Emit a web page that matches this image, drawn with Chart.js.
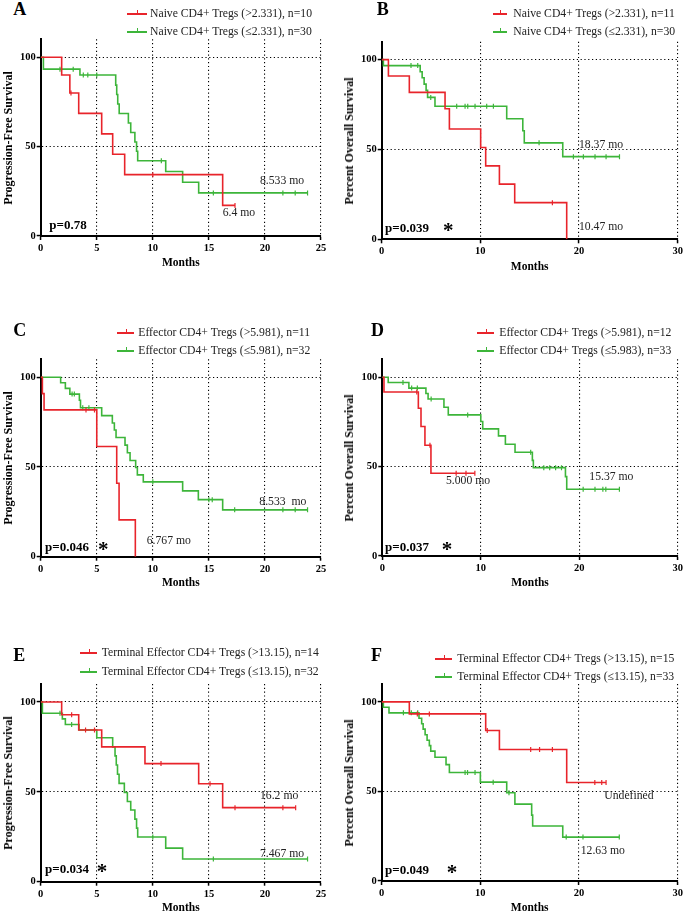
<!DOCTYPE html>
<html>
<head>
<meta charset="utf-8">
<script src="https://cdn.jsdelivr.net/npm/chart.js@4.4.1/dist/chart.umd.min.js"></script>
<style>
  body { margin: 0; background: #fff; }
  #fig { position: relative; width: 685px; height: 914px; overflow: hidden;
         font-family: "Liberation Serif", "Times New Roman", serif; color: #000; }
  #fig canvas { position: absolute; }
  .t { position: absolute; white-space: pre; line-height: 1; transform: translateY(-50%); }
  .letter { font-weight: bold; font-size: 18px; }
  .leg { font-size: 11.7px; color: #222; }
  .sw { position: absolute; height: 2px; }
  .sw::after { content: ""; position: absolute; left: 50%; top: -3px; width: 1px; height: 4px; background: inherit; }
  .pv { font-weight: bold; font-size: 13px; }
  .star { font-weight: bold; font-size: 21px; }
  .med { font-size: 11.7px; color: #222; }
  .axt { font-weight: bold; font-size: 11.5px; transform: translate(-50%, -50%); }
  .ylab { font-weight: bold; font-size: 12px; transform: translate(-50%, -50%) rotate(-90deg); }
</style>
</head>
<body>
<div id="fig"></div>
<script>
"use strict";
const RED = "#e8242b";
const GREEN = "#3db53a";
const FONT = "'Liberation Serif', 'Times New Roman', serif";

// axis ticks
const yTicks = [0, 50, 100];
const xTicks25 = [0, 5, 10, 15, 20, 25];
const xTicks30 = [0, 10, 20, 30];

// A — PFS, naive
const aRedT = [0, 1.87, 2.6, 3.39, 5.44, 6.42, 7.49, 16.23, 17.33];
const aRedS = [100, 90, 80, 68.6, 57.1, 45.7, 34.3, 17.1, 17.1];
const aRedC = [2.7, 10.0, 17.33];
const aGrnT = [0, 0.24, 3.5, 6.69, 6.78, 6.87, 7.0, 7.82, 8.03, 8.4, 8.55, 8.65, 11.15, 12.66, 14.09, 23.8];
const aGrnS = [100, 93.3, 90, 84.4, 79.1, 73.8, 68.5, 63.2, 57.9, 52.6, 47.4, 42.1, 36.1, 30.1, 24.1, 24.1];
const aGrnC = [1.72, 2.9, 3.8, 4.2, 5.0, 10.76, 15.4, 21.6, 22.7, 23.8];

// B — OS, naive
const bRedT = [0, 0.68, 2.8, 6.42, 6.86, 10.03, 10.54, 11.93, 13.48, 18.75];
const bRedS = [100, 90.9, 81.8, 72.7, 61.4, 51.1, 40.9, 30.7, 20.4, 0];
const bRedC = [17.3];
const bGrnT = [0, 0.17, 3.9, 4.1, 4.3, 4.5, 4.65, 5.4, 12.67, 14.3, 14.45, 18.35, 24.1];
const bGrnS = [100, 96.7, 93.3, 89.9, 86.4, 82.9, 79.0, 74.1, 67.1, 60.4, 53.7, 46.0, 46.0];
const bGrnC = [2.97, 3.65, 4.97, 7.6, 8.45, 8.72, 9.46, 10.64, 11.32, 15.95, 19.43, 20.44, 21.62, 22.74, 24.1];

// C — PFS, effector
const cRedT = [0, 0.15, 0.3, 5.0, 6.78, 6.99, 8.44];
const cRedS = [100, 90.9, 81.8, 61.4, 40.9, 20.5, 0];
const cRedC = [4.04, 4.8];
const cGrnT = [0, 1.78, 2.2, 2.6, 3.45, 3.55, 5.44, 6.39, 6.57, 6.72, 7.52, 7.73, 7.97, 8.47, 8.62, 9.15, 12.66, 14.06, 16.23, 23.8];
const cGrnS = [100, 96.9, 93.8, 90.6, 87.2, 83.0, 78.6, 74.5, 70.6, 66.4, 62.2, 57.9, 53.6, 49.7, 45.6, 41.7, 36.7, 31.8, 26.1, 26.1];
const cGrnC = [2.8, 3.0, 3.75, 4.3, 10.0, 15.0, 15.3, 17.3, 21.6, 22.7, 23.8];

// D — OS, effector
const dRedT = [0, 0.17, 3.66, 3.93, 4.33, 4.94, 9.4];
const dRedS = [100, 91.7, 82.6, 72.4, 61.9, 46.3, 46.3];
const dRedC = [3.5, 4.84, 7.5, 8.5, 9.4];
const dGrnT = [0, 0.6, 2.7, 4.43, 4.65, 6.26, 6.7, 10.0, 10.2, 11.8, 12.5, 13.48, 15.24, 15.34, 18.6, 18.73, 24.08];
const dGrnS = [100, 97.0, 93.9, 90.9, 87.8, 83.2, 78.9, 75.2, 71.1, 67.2, 62.5, 58.0, 53.5, 49.4, 44.4, 37.3, 37.3];
const dGrnC = [2.1, 2.98, 3.56, 4.96, 8.67, 15.07, 16.4, 17.0, 17.6, 18.2, 20.4, 21.6, 22.4, 22.7, 24.08];

// E — PFS, terminal effector
const eRedT = [0, 1.87, 3.39, 5.44, 9.3, 14.09, 16.23, 22.74];
const eRedS = [100, 92.9, 84.4, 75.0, 65.7, 54.5, 41.2, 41.2];
const eRedC = [2.76, 4.0, 4.8, 10.73, 15.1, 17.33, 21.6, 22.74];
const eGrnT = [0, 0.15, 1.93, 2.2, 3.42, 5.0, 6.42, 6.63, 6.74, 6.85, 6.99, 7.46, 7.73, 8.03, 8.4, 8.55, 8.65, 11.15, 12.66, 23.8];
const eGrnS = [100, 93.7, 90.6, 87.5, 84.4, 80.1, 75.0, 70.0, 64.9, 59.8, 54.7, 49.6, 44.6, 39.9, 34.8, 29.8, 24.9, 18.7, 12.6, 12.6];
const eGrnC = [1.72, 2.76, 10.0, 15.4, 23.8];

// F — OS, terminal effector
const fRedT = [0, 2.8, 10.54, 11.93, 18.75, 22.74];
const fRedS = [100, 93.3, 84.0, 73.4, 55.0, 55.0];
const fRedC = [3.61, 4.83, 10.7, 15.1, 16.0, 17.3, 21.6, 22.3, 22.74];
const fGrnT = [0, 0.17, 0.74, 3.78, 4.05, 4.2, 4.4, 4.6, 4.83, 4.97, 5.4, 6.52, 6.86, 10.0, 12.67, 13.5, 15.2, 15.3, 18.35, 24.08];
const fGrnS = [100, 97.0, 93.9, 90.9, 87.8, 84.8, 81.7, 78.6, 75.6, 72.5, 69.1, 65.0, 60.6, 55.2, 49.3, 42.9, 36.8, 30.7, 24.5, 24.5];
const fGrnC = [2.2, 3.0, 3.65, 8.45, 8.7, 9.46, 11.3, 12.9, 18.7, 20.4, 24.08];

const PANELS = [
  { id: "A", box: { l: 40.7, r: 321, t: 39.3, b: 236 }, xTicks: xTicks25,
    yTitle: "Progression-Free Survival", yTitleX: 7.5, monthsY: 263.3,
    red: [aRedT, aRedS, aRedC], green: [aGrnT, aGrnS, aGrnC],
    legRed: "Naive CD4+ Tregs (>2.331), n=10", legGrn: "Naive CD4+ Tregs (\u22642.331), n=30",
    letter: [13.3, 9], leg: { x: 127, w: 20, tx: 150, y1: 14, y2: 31.7 },
    p: "p=0.78", pPos: [49.3, 224.3], star: null,
    meds: [["8.533 mo", 260, 181], ["6.4 mo", 222.7, 213.3]] },
  { id: "B", box: { l: 381.7, r: 677.7, t: 41.7, b: 239.3 }, xTicks: xTicks30,
    yTitle: "Percent Overall Survival", yTitleX: 349, monthsY: 266.7,
    red: [bRedT, bRedS, bRedC], green: [bGrnT, bGrnS, bGrnC],
    legRed: "Naive CD4+ Tregs (>2.331), n=11", legGrn: "Naive CD4+ Tregs (\u22642.331), n=30",
    letter: [376.7, 9], leg: { x: 493.3, w: 14, tx: 513.3, y1: 14, y2: 31.7 },
    p: "p=0.039", pPos: [385, 227.3], star: 443,
    meds: [["18.37 mo", 579, 145], ["10.47 mo", 579, 226.7]] },
  { id: "C", box: { l: 40.7, r: 321, t: 359.3, b: 556.7 }, xTicks: xTicks25,
    yTitle: "Progression-Free Survival", yTitleX: 7.5, monthsY: 583.3,
    red: [cRedT, cRedS, cRedC], green: [cGrnT, cGrnS, cGrnC],
    legRed: "Effector CD4+ Tregs (>5.981), n=11", legGrn: "Effector CD4+ Tregs (\u22645.981), n=32",
    letter: [13.3, 330], leg: { x: 116.7, w: 16.7, tx: 138.3, y1: 333.3, y2: 351 },
    p: "p=0.046", pPos: [45, 545.7], star: 98,
    meds: [["6.767 mo", 146.7, 540.7], ["8.533  mo", 259.3, 501.7]] },
  { id: "D", box: { l: 382.3, r: 677.7, t: 359.3, b: 556 }, xTicks: xTicks30,
    yTitle: "Percent Overall Survival", yTitleX: 349, monthsY: 583.3,
    red: [dRedT, dRedS, dRedC], green: [dGrnT, dGrnS, dGrnC],
    legRed: "Effector CD4+ Tregs (>5.981), n=12", legGrn: "Effector CD4+ Tregs (\u22645.983), n=33",
    letter: [371, 330], leg: { x: 476.7, w: 16.7, tx: 499.3, y1: 333.3, y2: 350.7 },
    p: "p=0.037", pPos: [385, 545.7], star: 441.7,
    meds: [["5.000 mo", 446, 481], ["15.37 mo", 589.3, 476.7]] },
  { id: "E", box: { l: 40.7, r: 321, t: 684, b: 881.7 }, xTicks: xTicks25,
    yTitle: "Progression-Free Survival", yTitleX: 7.5, monthsY: 907.7,
    red: [eRedT, eRedS, eRedC], green: [eGrnT, eGrnS, eGrnC],
    legRed: "Terminal Effector CD4+ Tregs (>13.15), n=14", legGrn: "Terminal Effector CD4+ Tregs (\u226413.15), n=32",
    letter: [13.3, 655], leg: { x: 80, w: 16.7, tx: 101.7, y1: 653.3, y2: 671.7 },
    p: "p=0.034", pPos: [45, 868.3], star: 96.7,
    meds: [["16.2 mo", 260, 795.7], ["7.467 mo", 260, 854]] },
  { id: "F", box: { l: 381.7, r: 677.7, t: 684, b: 881 }, xTicks: xTicks30,
    yTitle: "Percent Overall Survival", yTitleX: 349, monthsY: 907.7,
    red: [fRedT, fRedS, fRedC], green: [fGrnT, fGrnS, fGrnC],
    legRed: "Terminal Effector CD4+ Tregs (>13.15), n=15", legGrn: "Terminal Effector CD4+ Tregs (\u226413.15), n=33",
    letter: [371, 655], leg: { x: 435, w: 16.7, tx: 457.3, y1: 659, y2: 676.7 },
    p: "p=0.049", pPos: [385, 869.3], star: 446.7,
    meds: [["Undefined", 604.3, 795.7], ["12.63 mo", 580.7, 850.7]] },
];

const fig = document.getElementById("fig");

function stepAt(ts, ss, t) {
  let v = ss[0];
  for (let i = 0; i < ts.length; i++) if (ts[i] <= t) v = ss[i];
  return v;
}

function addText(cls, txt, x, y, extra) {
  const el = document.createElement("div");
  el.className = "t " + cls;
  el.textContent = txt;
  el.style.left = x + "px";
  el.style.top = y + "px";
  if (extra) Object.assign(el.style, extra);
  fig.appendChild(el);
  return el;
}

// legend sample: short line with a censor tick, snapped to whole pixels
function addSwatch(color, x, y, w) {
  const el = document.createElement("div");
  el.className = "sw";
  el.style.background = color;
  el.style.left = Math.round(x) + "px";
  el.style.top = Math.round(y - 1) + "px";
  el.style.width = Math.round(w) + "px";
  fig.appendChild(el);
}

function curveSets(arr, color) {
  const [t, s, c] = arr;
  return [
    { data: t.map((x, i) => ({ x, y: s[i] })), borderColor: color, borderWidth: 1.6,
      stepped: true, pointRadius: 0, fill: false },
    { data: c.map(x => ({ x, y: stepAt(t, s, x) })), showLine: false,
      pointStyle: "line", pointRotation: 90, pointRadius: 2.5,
      pointBorderColor: color, pointBorderWidth: 1.2, borderColor: color },
  ];
}

function makePanel(P) {
  const cl = Math.floor(P.box.l - 40), ct = Math.floor(P.box.t - 12);
  const cw = Math.ceil(P.box.r - cl + 14), ch = Math.ceil(P.box.b - ct + 24);
  const yW = P.box.l - cl, xH = ch - (P.box.b - ct);
  const cv = document.createElement("canvas");
  cv.width = cw; cv.height = ch;
  cv.style.left = cl + "px"; cv.style.top = ct + "px";
  fig.appendChild(cv);

  const gridCol = c => (c.tick && c.tick.value === 0) ? "rgba(0,0,0,0)" : "#000";
  const tickFont = { family: FONT, weight: "bold", size: 10.5 };

  new Chart(cv, {
    type: "line",
    data: { datasets: [...curveSets(P.red, RED), ...curveSets(P.green, GREEN)] },
    options: {
      responsive: false, animation: false, devicePixelRatio: 1,
      layout: { padding: { left: 0, top: P.box.t - ct, right: cw - (P.box.r - cl), bottom: 0 } },
      plugins: { legend: { display: false }, tooltip: { enabled: false } },
      scales: {
        x: {
          type: "linear", min: 0, max: P.xTicks[P.xTicks.length - 1],
          afterBuildTicks: s => { s.ticks = P.xTicks.map(v => ({ value: v })); },
          afterFit: s => { s.height = xH; },
          grid: { color: gridCol, lineWidth: 1.1, tickColor: "#000", tickLength: 4, tickWidth: 1.5 },
          border: { color: "#000", width: 2, dash: [1.2, 2.6] },
          ticks: { color: "#000", font: tickFont, padding: 2, maxRotation: 0, autoSkip: false },
        },
        y: {
          min: 0, max: 110,
          afterBuildTicks: s => { s.ticks = yTicks.map(v => ({ value: v })); },
          afterFit: s => { s.width = yW; },
          grid: { color: gridCol, lineWidth: 1.1, tickColor: "#000", tickLength: 4, tickWidth: 1.5 },
          border: { color: "#000", width: 2, dash: [1.2, 2.6] },
          ticks: { color: "#000", font: tickFont, padding: 1 },
        },
      },
    },
  });

  // panel letter, legend, axis titles, p-value, medians
  addText("letter", P.id, P.letter[0], P.letter[1]);
  addSwatch(RED, P.leg.x, P.leg.y1, P.leg.w);
  addSwatch(GREEN, P.leg.x, P.leg.y2, P.leg.w);
  addText("leg", P.legRed, P.leg.tx, P.leg.y1);
  addText("leg", P.legGrn, P.leg.tx, P.leg.y2);
  addText("axt", "Months", (P.box.l + P.box.r) / 2, P.monthsY);
  addText("ylab", P.yTitle, P.yTitleX, (P.box.t + P.box.b) / 2);
  addText("pv", P.p, P.pPos[0], P.pPos[1]);
  if (P.star !== null) addText("star", "*", P.star, P.pPos[1] + 3);
  P.meds.forEach(m => addText("med", m[0], m[1], m[2]));
}

PANELS.forEach(makePanel);
</script>
</body>
</html>
